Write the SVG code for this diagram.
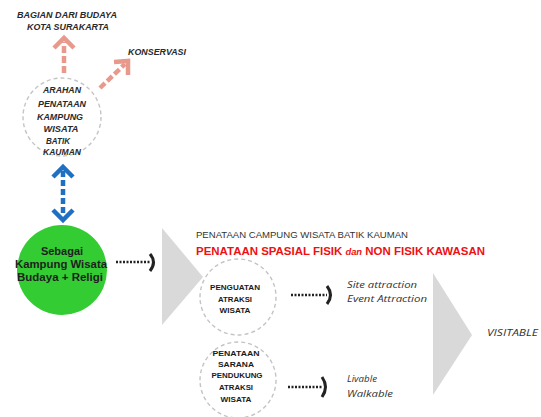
<svg xmlns="http://www.w3.org/2000/svg" width="541" height="417" viewBox="0 0 541 417">
<style>
.lbl{font-family:"Liberation Sans",Arial,sans-serif;font-style:italic;font-weight:bold;fill:#2a2a2a;font-size:9px;text-anchor:middle}
.it{font-family:"Open Sans","Liberation Sans",sans-serif;font-style:italic;fill:#333;font-size:9.5px}
.cb{font-family:"Liberation Sans",Arial,sans-serif;font-weight:bold;fill:#1a1a1a;font-size:8px;text-anchor:middle}
.gt{font-family:"Liberation Sans",Arial,sans-serif;font-weight:bold;fill:#1e1e1e;font-size:11px;text-anchor:middle}
.dc{fill:none;stroke:#c4c4c4;stroke-width:1.4;stroke-dasharray:4 3}
.sal{fill:none;stroke:#e8998c;stroke-width:4.5}
.blu{fill:none;stroke:#1f6fc2;stroke-width:4.5}
.dot{fill:none;stroke:#222;stroke-width:2.5;stroke-dasharray:2 1.5}
.chev{fill:none;stroke:#222;stroke-width:3;stroke-linejoin:round}
.tri{fill:#d9d9d9}
</style>
<rect width="541" height="417" fill="#ffffff"/>
<g id="connectors">
<line class="sal" x1="64" y1="73" x2="64" y2="42" stroke-dasharray="7 3"/>
<polyline class="sal" points="54,48 64,38 74,48"/>
<line class="sal" x1="100" y1="88" x2="125" y2="64" stroke-dasharray="7 3"/>
<polyline class="sal" points="114,62 128,61 128,75"/>
<line class="blu" x1="63" y1="171" x2="63" y2="216" stroke-dasharray="6 3"/>
<polyline class="blu" points="53,177 63,167 73,177"/>
<polyline class="blu" points="53,210 63,220 73,210"/>
<line class="dot" x1="116" y1="262" x2="150" y2="262"/>
<path class="chev" d="M150,254 Q157,262 150,271"/>
<line class="dot" x1="291" y1="295" x2="327" y2="295"/>
<path class="chev" d="M327,286 Q334,295 327,304"/>
<line class="dot" x1="288" y1="387" x2="322" y2="387"/>
<path class="chev" d="M322,377 Q329,387 322,397"/>
</g>
<g id="bagian">
<text class="lbl" x="67" y="18" textLength="100" lengthAdjust="spacingAndGlyphs">BAGIAN DARI BUDAYA</text>
<text class="lbl" x="68" y="30" textLength="82" lengthAdjust="spacingAndGlyphs">KOTA SURAKARTA</text>
</g>
<g id="konservasi">
<text class="lbl" x="157" y="55" textLength="58" lengthAdjust="spacingAndGlyphs">KONSERVASI</text>
</g>
<g id="arahan">
<circle class="dc" cx="62" cy="117" r="39"/>
<text class="lbl" x="62" y="93" textLength="38" lengthAdjust="spacingAndGlyphs">ARAHAN</text>
<text class="lbl" x="62" y="107" textLength="48" lengthAdjust="spacingAndGlyphs">PENATAAN</text>
<text class="lbl" x="60" y="120" textLength="46" lengthAdjust="spacingAndGlyphs">KAMPUNG</text>
<text class="lbl" x="61" y="132" textLength="35" lengthAdjust="spacingAndGlyphs">WISATA</text>
<text class="lbl" x="58" y="144" textLength="24" lengthAdjust="spacingAndGlyphs">BATIK</text>
<text class="lbl" x="62" y="155" textLength="38" lengthAdjust="spacingAndGlyphs">KAUMAN</text>
</g>
<g id="green">
<circle cx="62" cy="270" r="45" fill="#33cc33"/>
<text class="gt" x="62" y="255">Sebagai</text>
<text class="gt" x="61" y="268" textLength="92" lengthAdjust="spacingAndGlyphs">Kampung Wisata</text>
<text class="gt" x="60" y="281" textLength="86" lengthAdjust="spacingAndGlyphs">Budaya + Religi</text>
</g>
<g id="tri1"><polygon class="tri" points="162,228 203,277 162,325"/></g>
<g id="title">
<text x="196" y="238" font-family="Liberation Sans,Arial,sans-serif" font-size="8.5" fill="#333" textLength="212" lengthAdjust="spacingAndGlyphs">PENATAAN CAMPUNG WISATA BATIK KAUMAN</text>
<text x="196" y="255" font-family="Liberation Sans,Arial,sans-serif" font-size="11" font-weight="bold" fill="#ee1111" textLength="289" lengthAdjust="spacingAndGlyphs">PENATAAN SPASIAL FISIK <tspan font-style="italic" font-size="9">dan</tspan> NON FISIK KAWASAN</text>
</g>
<g id="penguatan">
<circle class="dc" cx="238" cy="297" r="38"/>
<text class="cb" x="235" y="290" textLength="50" lengthAdjust="spacingAndGlyphs">PENGUATAN</text>
<text class="cb" x="235" y="302" textLength="34" lengthAdjust="spacingAndGlyphs">ATRAKSI</text>
<text class="cb" x="235" y="313" textLength="31" lengthAdjust="spacingAndGlyphs">WISATA</text>
</g>
<g id="penataan">
<circle class="dc" cx="238" cy="380" r="38"/>
<text class="cb" x="236" y="356" textLength="47" lengthAdjust="spacingAndGlyphs">PENATAAN</text>
<text class="cb" x="236" y="367" textLength="36" lengthAdjust="spacingAndGlyphs">SARANA</text>
<text class="cb" x="237" y="378" textLength="51" lengthAdjust="spacingAndGlyphs">PENDUKUNG</text>
<text class="cb" x="236" y="390" textLength="34" lengthAdjust="spacingAndGlyphs">ATRAKSI</text>
<text class="cb" x="236" y="402" textLength="31" lengthAdjust="spacingAndGlyphs">WISATA</text>
</g>
<g id="site">
<text class="it" x="347" y="288" textLength="70" lengthAdjust="spacingAndGlyphs">Site attraction</text>
<text class="it" x="347" y="302" textLength="80" lengthAdjust="spacingAndGlyphs">Event Attraction</text>
</g>
<g id="livable">
<text class="it" x="347" y="382" textLength="30" lengthAdjust="spacingAndGlyphs">Livable</text>
<text class="it" x="347" y="397" textLength="46" lengthAdjust="spacingAndGlyphs">Walkable</text>
</g>
<g id="tri2"><polygon class="tri" points="433,273 472,335 433,395"/></g>
<g id="visitable">
<text class="it" x="487" y="336" textLength="51" lengthAdjust="spacingAndGlyphs">VISITABLE</text>
</g>
</svg>
